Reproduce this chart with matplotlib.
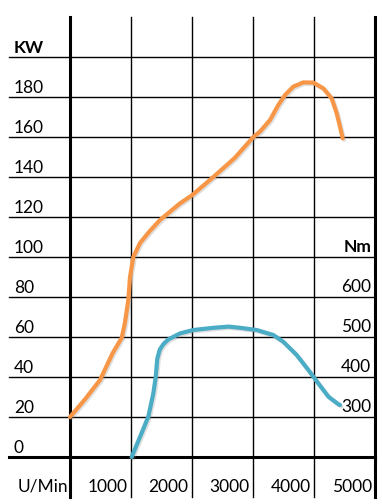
import matplotlib
matplotlib.use("Agg")
import matplotlib.pyplot as plt
import matplotlib.patheffects as pe

# ---- data ----
rpm_power = [0, 250, 492, 700, 847, 900, 956, 984, 1038, 1148, 1300, 1475,
             1803, 2005, 2350, 2700, 3005, 3115, 3279, 3415, 3525, 3661,
             3825, 3989, 4153, 4290, 4372, 4426, 4470]
power_kw = [20, 29, 38.5, 52, 59.5, 67, 78.5, 90, 100, 107, 112.7, 118.5,
            126.8, 131, 140, 149.5, 160, 162.7, 168.5, 176, 181, 185.2,
            187.3, 187.2, 184.3, 179.3, 171.8, 165.2, 159.3]

rpm_torque = [1011, 1150, 1284, 1366, 1405, 1430, 1470, 1530, 1612, 1803,
              2022, 2350, 2600, 2787, 3060, 3333, 3497, 3716, 3907, 4071,
              4235, 4399, 4426]
torque_nm = [200, 251, 301, 359, 400, 445, 468, 482, 494, 509,
             517.5, 523, 526, 523, 517.5, 505, 488, 455, 417.5, 384,
             351, 332, 330]

kw_ticks = [180, 160, 140, 120, 100, 80, 60, 40, 20, 0]
nm_ticks = [600, 500, 400, 300]
rpm_ticks = [1000, 2000, 3000, 4000, 5000]
kw_label = "KW"
nm_label = "Nm"
rpm_label = "U/Min"

# ---- figure ----
W, H = 382, 504
fig = plt.figure(figsize=(W / 100, H / 100), dpi=100)
ax = fig.add_axes([0, 0, 1, 1])
ax.set_xlim(-1147.5, 5114.75)
ax.set_ylim(-23.5, 228.5)
ax.axis("off")

ax2 = ax.twinx()
ax2.set_ylim(200 + 5 * -23.5, 200 + 5 * 228.5)
ax2.axis("off")

FONT = "Lato"
FS = 12.5

# grid lines (table style)
row_lines = list(range(20, 201, 20))
for v in row_lines:
    ax.plot([-1000, 5000], [v, v], color="black", lw=1.0, zorder=1)
ax.plot([-1000, 5000], [0, 0], color="black", lw=2.2, zorder=1)
for r in [1000, 2000, 3000, 4000]:
    ax.plot([r, r], [-20, 220], color="black", lw=1.0, zorder=1)
for r in [0, 5000]:
    ax.plot([r, r], [-20, 220], color="black", lw=2.2, zorder=1)

# curves
shadow = [pe.SimpleLineShadow(offset=(1, -1), shadow_color="gray", alpha=0.25), pe.Normal()]
ax.plot(rpm_power, power_kw, color="#F79646", lw=3.0, solid_capstyle="round",
        solid_joinstyle="round", zorder=3, path_effects=shadow)
ax2.plot(rpm_torque, torque_nm, color="#4BACC6", lw=3.0, solid_capstyle="round",
         solid_joinstyle="round", zorder=3, path_effects=shadow)

# left labels
xl = -918
ax.text(xl, 202, kw_label, family=FONT, fontsize=FS, fontweight="bold",
        ha="left", va="baseline", color="black")
for v in kw_ticks:
    ax.text(xl, v + 2, str(v), family=FONT, fontsize=FS, ha="left",
            va="baseline", color="black")

# right labels (torque)
xr = 5000 - 60
ax2.text(xr, 700 + 12, nm_label, family=FONT, fontsize=FS, fontweight="bold",
         ha="right", va="baseline", color="black", zorder=4)
for v in nm_ticks:
    ax2.text(xr, v + 12, str(v), family=FONT, fontsize=FS, ha="right",
             va="baseline", color="black", zorder=4)

# bottom labels
ax.text(-852, -17.5, rpm_label, family=FONT, fontsize=FS, ha="left",
        va="baseline", color="black")
for r in rpm_ticks:
    ax.text(r - 55, -17.5, str(r), family=FONT, fontsize=FS, ha="right",
            va="baseline", color="black")

fig.savefig("out.png", dpi=100, facecolor="white")
